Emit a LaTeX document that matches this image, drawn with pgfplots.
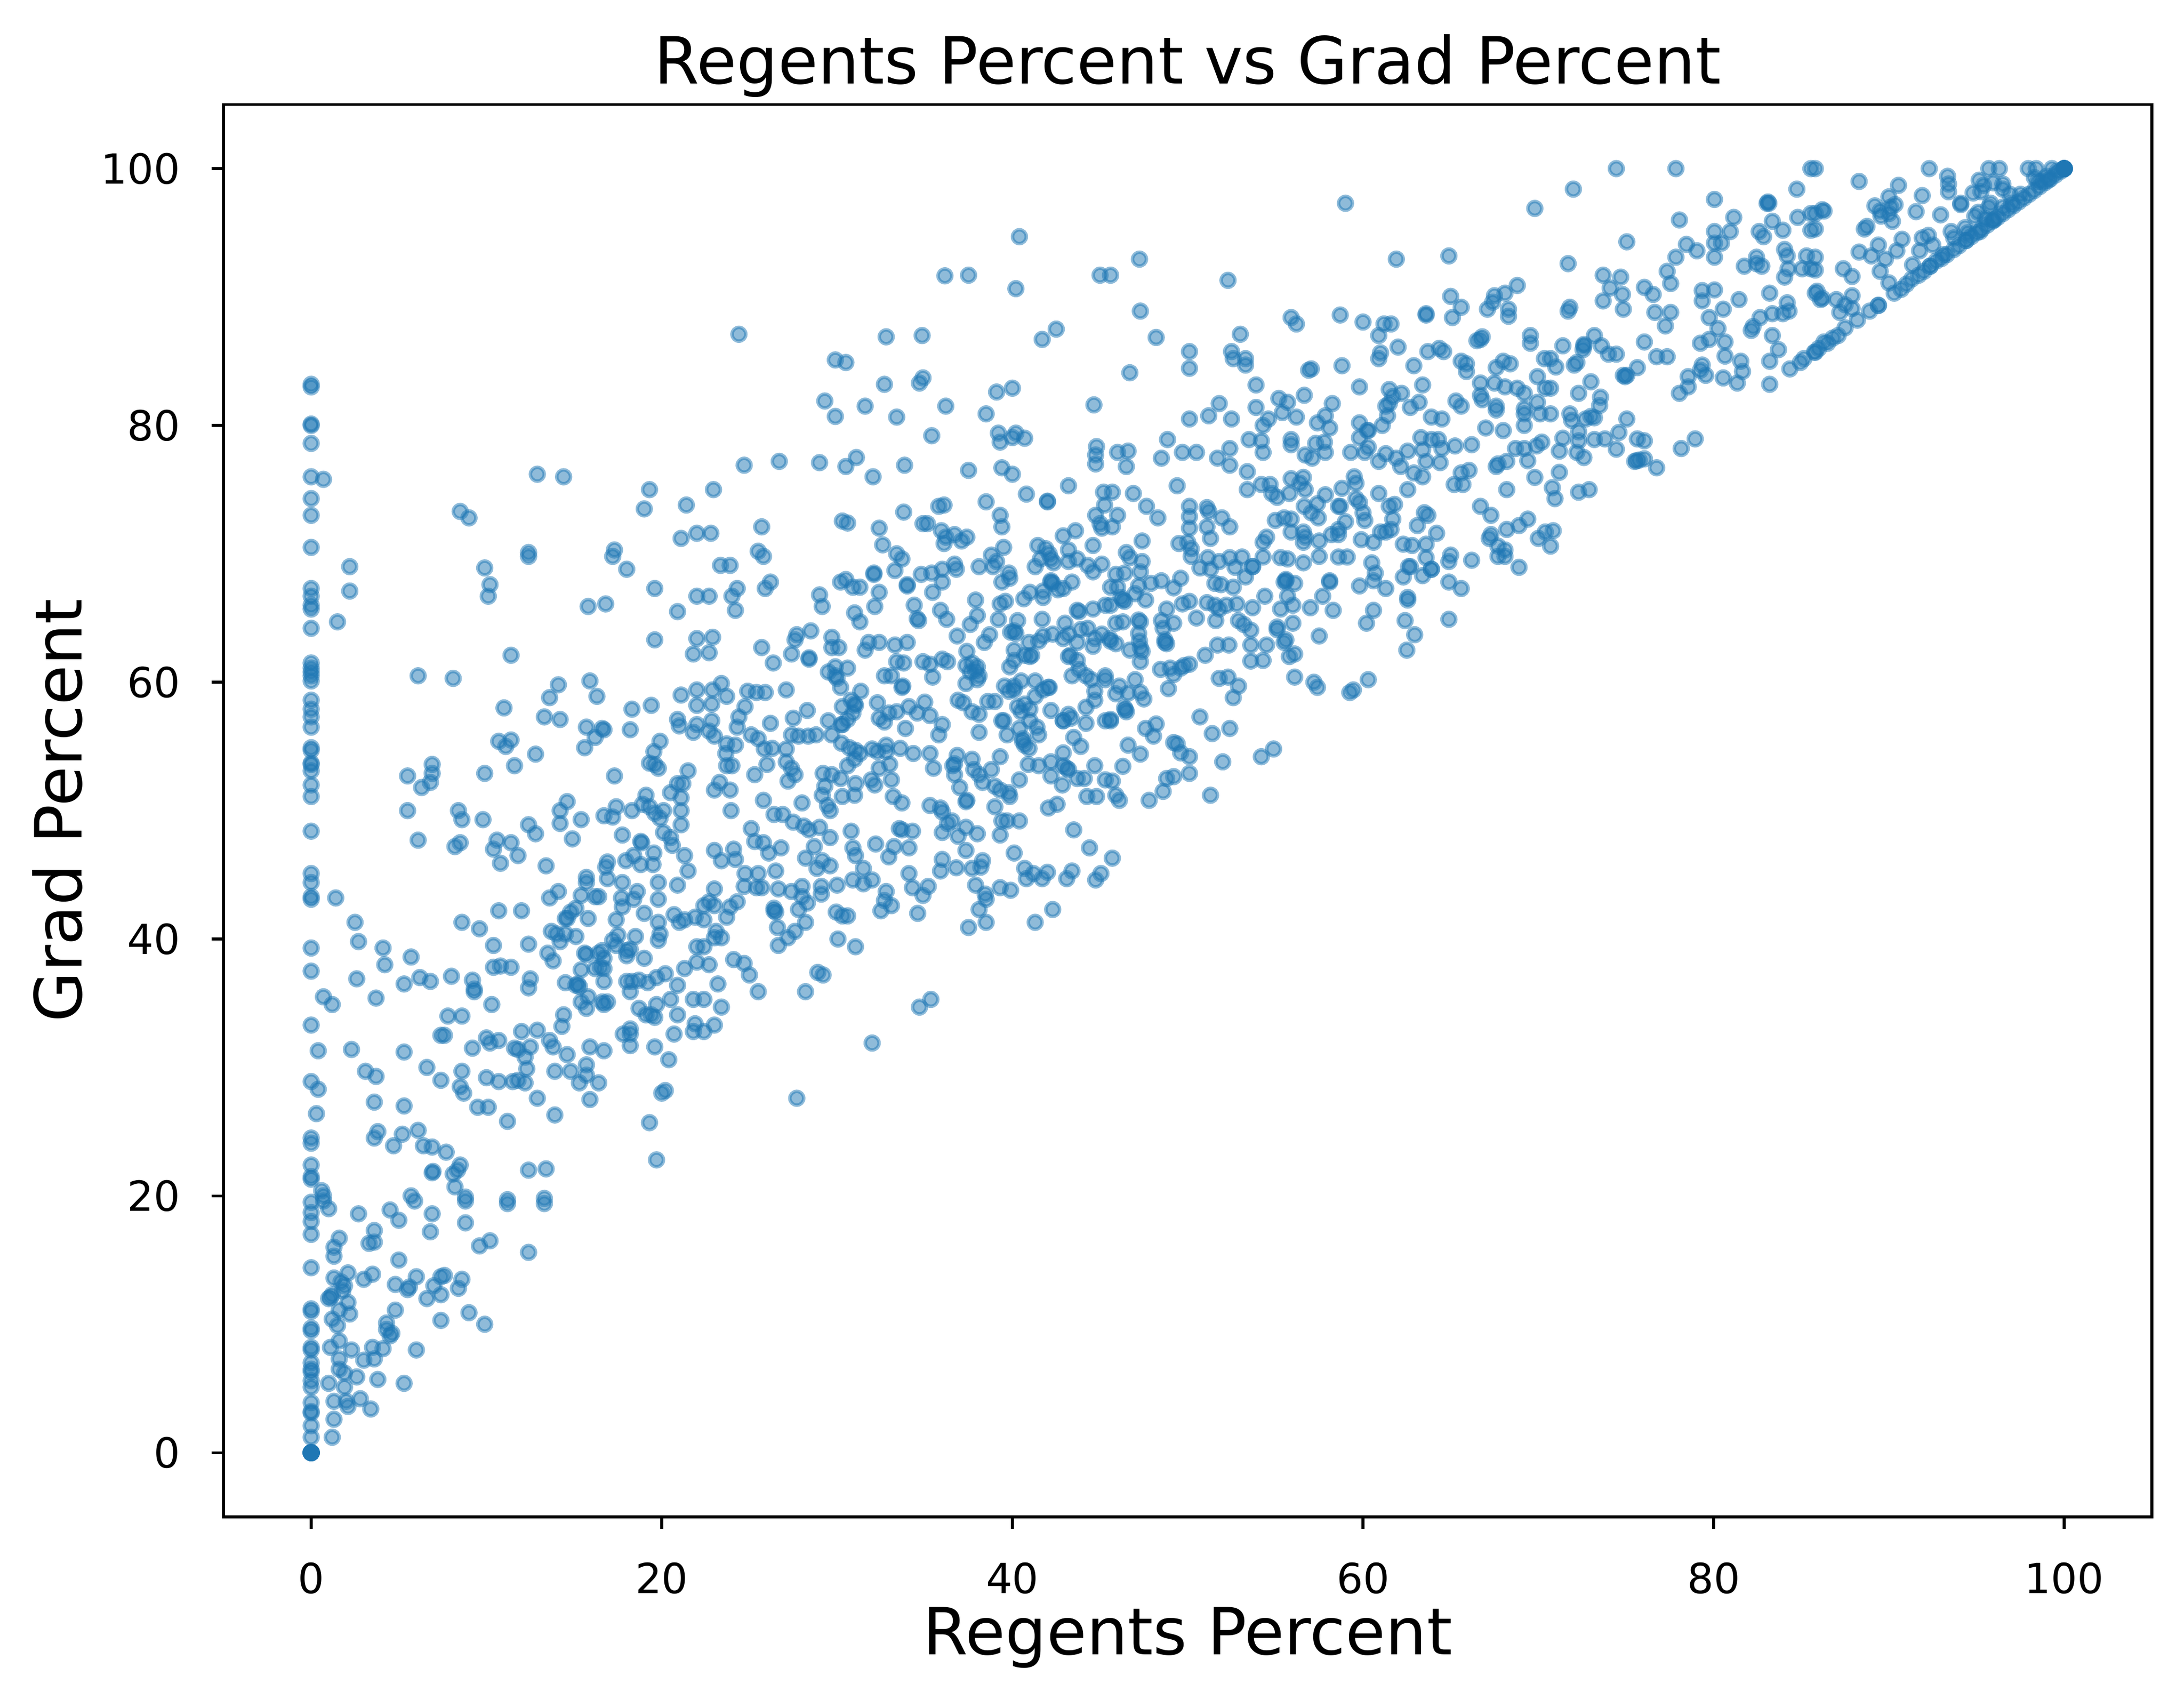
\documentclass[border=0pt]{standalone}
\usepackage{fontspec}
\setmainfont{DejaVu Sans}
\usepackage{pgfplots}
\pgfplotsset{compat=1.18}
\definecolor{mplblue}{HTML}{1F77B4}
\begin{document}
\begin{tikzpicture}
\begin{axis}[
  name=ax,
  scale only axis,
  width=557.7pt, height=408.4pt,
  xmin=-5, xmax=105, ymin=-5, ymax=105,
  xtick={0,20,40,60,80,100}, ytick={0,20,40,60,80,100},
  tick align=outside, tick pos=left,
  major tick length=3.5pt,
  every tick/.style={black, line width=0.8pt},
  axis line style={line width=0.8pt},
  /pgf/number format/assume math mode=true,
  tick label style={font=\fontsize{12}{14}\selectfont, inner sep=0pt},
  xticklabel style={anchor=base, yshift=-18.6pt},
  yticklabel style={anchor=base east, yshift=-4.4pt, xshift=-8.9pt},
  title={Regents Percent vs Grad Percent},
  xlabel={Regents Percent},
  ylabel={Grad Percent},
  every axis title/.style={at={(rel axis cs:0.5,1)}, yshift=6pt, anchor=base, font=\fontsize{18.8}{22}\selectfont, inner sep=0pt},
  every axis x label/.style={at={(rel axis cs:0.5,0)}, yshift=-39.9pt, anchor=base, font=\fontsize{18.8}{22}\selectfont, inner sep=0pt},
  every axis y label/.style={at={(rel axis cs:0,0.5)}, xshift=-41pt, rotate=90, anchor=base, font=\fontsize{18.8}{22}\selectfont, inner sep=0pt},
  clip=false,
]
\addplot[only marks, mark=*, mark size=2pt, mark options={line width=1pt, draw=mplblue, fill=mplblue, draw opacity=0.5, fill opacity=0.5}] coordinates {
(0,0) (0,0) (0,0) (0,0) (0,0) (0,0) (0,0) (0,0)
(0,1.2) (1.2,1.2) (0,2.1) (1.3,2.6) (0,3.1) (0,3.2) (0,3.9) (1.3,4.0) (2.1,3.6) (2.0,4.0) (2.8,4.2) (3.4,3.4)
(0,5.1) (0,5.6) (0,6.3) (0,6.5) (0,7.0) (0,8.0) (0,8.2) (0,9.5) (0,9.7) (0,11.2) (0,11.0) (0,14.4) (0,17.0) (0,18.0) (0,18.7) (0,19.5)
(1.0,5.4) (1.9,5.1) (2.6,5.9) (3.8,5.7) (5.3,5.4) (1.6,6.5) (1.9,6.2) (1.6,7.3) (1.1,8.2) (1.6,8.7) (2.3,8.0) (3.0,7.2) (3.5,8.2) (3.6,7.3) (4.1,8.1) (6.0,8.0)
(4.3,10.1) (4.3,9.6) (4.5,9.1) (4.6,9.3) (4.8,11.1) (1.2,10.4) (1.5,9.9) (2.2,10.8) (2.1,11.7) (1.6,11.1) (1.1,12.1) (1.2,12.3) (1.0,12.0)
(1.3,13.6) (1.7,13.3) (1.9,13.0) (2.1,14.0) (1.8,12.6) (3.0,13.5) (3.5,13.9) (4.8,13.1) (5.5,12.7) (5.6,12.9) (6.0,13.7) (6.6,12.0) (7.0,13.0) (7.4,13.7) (7.6,13.8) (7.4,12.3) (8.4,12.8) (8.6,13.5) (7.4,10.3) (9.0,10.9) (9.9,10.0)
(1.3,15.3) (1.3,16.0) (1.6,16.7) (5.0,15.0) (3.3,16.3) (3.6,16.4) (3.6,17.3) (2.7,18.6) (1.0,19.0) (4.5,18.9) (5.0,18.1) (6.9,18.6) (6.8,17.2) (8.8,17.9) (9.6,16.1) (10.2,16.5) (12.4,15.6) (11.2,19.4) (13.3,19.4) (8.8,19.6) (5.9,19.6) (0.7,19.6)
(0,44.4) (0,43.1) (0,43.3) (1.4,43.2) (0,39.3) (0,37.5) (0,33.3) (0.4,31.3) (0,28.9) (0.4,28.3) (0.3,26.4) (0,24.5) (0,24.1) (0,22.4) (0,21.5) (0,21.3) (0.6,20.4) (0.7,20.0)
(2.5,41.3) (2.7,39.8) (4.1,39.3) (4.2,38.0) (5.7,38.6) (2.6,36.9) (0.7,35.5) (1.2,34.9) (3.7,35.4) (5.3,36.5) (6.2,37.0) (6.8,36.7) (8.0,37.1) (9.2,36.8) (9.3,35.9) (9.3,36.1)
(8.6,41.3) (9.6,40.8) (10.7,42.2) (12.0,42.2) (10.4,39.5) (12.4,39.6) (10.4,37.8) (10.8,37.9) (11.4,37.8) (12.5,36.9) (12.4,36.2) (10.3,34.9) (7.8,34.0) (8.6,34.0) (7.4,32.5) (7.6,32.5)
(2.3,31.4) (5.3,31.2) (9.2,31.5) (10.0,32.3) (10.2,31.9) (10.7,32.1) (12.0,32.8) (12.9,32.9) (11.6,31.5) (11.8,31.4) (12.5,31.6) (12.2,30.8) (12.3,29.9)
(3.1,29.7) (3.7,29.3) (6.6,30.0) (7.4,29.0) (8.6,29.7) (8.5,28.5) (8.7,28.0) (10.0,29.2) (10.7,28.9) (11.5,28.9) (11.8,29.0) (12.2,28.8)
(13.6,32.1) (13.8,31.6) (14.6,31.0) (13.9,29.7) (14.8,29.7) (15.3,28.8) (15.7,29.4) (15.7,30.2) (16.4,28.8) (15.9,27.5) (13.9,26.3) (12.9,27.6) (11.2,25.8) (9.5,26.9) (10.1,26.9)
(3.6,27.3) (5.3,27.0) (3.8,25.0) (3.6,24.5) (5.2,24.8) (4.7,23.9) (6.1,25.1) (6.4,23.9) (6.9,23.8) (7.7,23.4) (8.5,22.4) (8.35,22.0) (8.1,21.7) (6.9,21.8) (6.95,21.9) (8.2,20.7) (5.7,20.0) (8.8,19.9) (12.4,22.0) (13.4,22.1) (11.2,19.7) (13.3,19.8)
(19.3,25.7) (19.7,22.8) (20.2,28.2) (20.0,28.0) (20.4,30.6) (19.6,31.6) (20.7,32.6) (21.8,32.8) (21.9,33.4) (18.2,31.7) (18.2,32.6) (17.8,32.6) (18.2,33.0) (15.9,31.6) (16.7,31.3) (14.3,33.2) (14.4,34.1)
(20.9,34.1) (21.8,35.3) (20.5,35.3) (19.7,34.9) (18.7,34.6) (19.1,34.1) (19.6,33.9) (19.4,34.1) (20.9,36.4) (21.3,37.7) (20.2,37.3) (19.7,37.0) (19.2,36.6) (18.7,36.8) (18.3,36.7) (18.0,36.7) (18.2,35.9)
(14.5,36.6) (15.2,36.5) (15.3,36.3) (15.1,36.4) (15.8,35.5) (15.4,35.1) (15.7,34.6) (16.6,35.1) (16.9,35.1) (16.7,34.9) (16.7,36.7) (15.4,37.6) (16.2,37.7) (16.5,37.8) (16.7,37.7)
(13.5,38.9) (13.8,38.3) (15.6,38.9) (15.7,38.8) (16.4,38.9) (16.6,39.1) (16.7,38.5) (17.4,39.5) (17.2,39.9) (17.5,40.3) (18.0,39.1) (18.2,39.2) (18.0,38.7) (18.5,40.2) (19.0,38.5) (19.9,40.4) (19.8,39.9) (19.8,41.3)
(13.7,40.6) (14.0,40.4) (14.2,39.8) (14.5,40.4) (15.1,40.2) (14.6,41.6) (14.5,41.6) (14.8,42.1) (15.1,42.4) (15.8,41.6) (13.6,43.2) (14.1,43.7) (15.4,43.4) (16.2,43.3) (16.4,43.3) (15.7,44.4) (16.9,44.7)
(17.4,41.5) (17.75,42.5) (17.7,43.2) (18.4,43.1) (18.6,43.7) (17.75,44.4) (19.0,42.0) (19.8,43.1) (19.8,44.4) (20.7,41.9) (20.9,44.2) (21.0,41.3) (21.3,41.5) (21.9,41.7) (22.0,39.4) (22.0,38.2)
(0,67.3) (0,66.7) (0,66.0) (0,65.7) (0,64.2) (0,61.5) (0,61.1) (0,60.8) (0,60.5) (0,60.1) (0,58.6) (0,57.9) (0,57.3) (0,56.5) (0,54.9) (0,54.7) (0,53.7) (0,53.6) (0,53.1) (0,52.0) (0,51.1) (0,48.4) (0,45.1)
(2.2,69.0) (2.2,67.1) (1.5,64.7) (9.9,68.9) (10.2,67.6) (10.1,66.7) (12.4,69.8) (17.2,69.8) (18.0,68.8) (19.6,67.3) (22.0,66.7) (15.8,65.9) (16.8,66.1) (20.9,65.5) (19.6,63.3) (22.0,63.4) (11.4,62.1) (21.8,62.2)
(6.1,60.5) (8.1,60.3) (14.1,59.8) (15.9,60.1) (16.3,58.9) (13.6,58.8) (21.1,59.0) (22.0,59.4) (11.0,58.0) (13.3,57.3) (14.2,57.1) (18.3,57.9) (19.4,58.2) (22.0,58.2)
(15.7,56.5) (16.6,56.4) (16.7,56.3) (16.2,55.7) (15.6,54.9) (18.2,56.3) (20.9,57.1) (21.0,56.6) (21.8,56.1) (22.0,56.7) (10.7,55.4) (11.1,55.0) (11.4,55.5) (12.8,54.4) (11.6,53.5) (9.9,52.9)
(5.5,52.7) (6.9,53.6) (6.9,52.9) (6.8,52.2) (6.3,51.8) (17.3,52.7) (19.9,55.4) (19.55,54.6) (19.3,53.7) (19.6,53.6) (19.8,53.3) (21.5,53.1) (21.2,52.1) (20.9,52.1) (20.5,51.4) (21.1,51.0)
(5.5,50.0) (8.4,50.0) (8.6,49.3) (9.8,49.3) (14.6,50.7) (14.2,50.0) (14.2,49.0) (15.4,49.3) (12.4,48.9) (12.8,48.2) (16.7,49.6) (17.2,49.5) (17.4,50.3) (18.3,50.0) (19.1,51.2) (18.9,50.5) (19.3,50.3) (19.6,49.8) (20.1,50.0) (19.9,49.4) (21.1,50.0) (21.1,48.9)
(17.75,48.1) (18.8,47.6) (18.85,47.5) (20.1,48.3) (20.5,47.9) (6.1,47.7) (8.2,47.2) (8.5,47.5) (10.6,47.7) (11.4,47.5) (10.4,47.0) (11.8,46.5) (10.8,45.9) (13.4,45.7) (14.9,47.8)
(16.9,46.0) (16.8,45.6) (17.95,46.1) (18.4,46.5) (18.8,45.8) (19.55,46.7) (19.5,45.8) (20.6,47.3) (21.3,46.5) (21.5,45.3) (15.7,44.8)
(0,83.2) (0,83.0) (0,80.0) (0,80.1) (0,78.6) (0,76.0) (0.7,75.8) (0,74.3) (0,73.0) (0,70.5) (8.5,73.3) (9.0,72.8) (12.9,76.2) (14.4,76.0) (12.4,70.1) (17.3,70.3) (19.3,75.0) (19.0,73.5) (21.4,73.8) (21.1,71.2) (22.0,71.6)
(23.0,43.9) (24.7,44.1) (25.4,44.0) (25.7,44.0) (26.65,43.9) (27.4,43.7) (28.0,44.1) (28.0,43.3) (28.3,42.8) (27.8,42.3)
(29.1,43.5) (29.1,44.1) (30.0,44.2) (30.9,44.6) (31.5,44.3) (32.0,44.6) (26.4,42.2) (26.4,42.4) (26.5,42.1)
(26.6,40.9) (27.6,40.6) (28.2,41.3) (27.2,40.1) (26.65,39.5) (29.95,42.1) (30.3,41.8) (30.6,41.8) (30.05,40.0) (31.05,39.4)
(32.8,43.7) (32.7,43.0) (33.1,42.6) (32.5,42.2) (34.3,44.0) (35.2,44.1) (34.9,43.4) (34.6,42.0)
(37.9,44.2) (38.45,43.5) (38.5,43.1) (38.1,42.3) (38.5,41.3) (37.5,40.9) (39.3,44.0) (39.9,43.8) (41.3,41.3) (42.3,42.3) (40.8,44.7) (41.7,44.7) (43.1,44.7) (44.75,44.6)
(22.4,41.5) (23.0,42.6) (23.7,41.7) (23.9,42.5) (24.3,42.9) (22.4,42.6) (22.7,42.9)
(23.1,40.6) (23.0,40.1) (23.4,40.1) (22.4,39.4) (22.7,38.0) (24.1,38.4) (24.7,38.1) (25.0,37.2) (23.2,36.5) (25.5,35.9) (22.4,35.3) (23.4,34.7) (23.0,33.3) (22.4,32.8)
(28.9,37.4) (29.2,37.2) (28.2,35.9) (34.7,34.7) (35.35,35.3) (32.0,31.9) (27.7,27.6)
(23.35,69.1) (23.9,69.1) (25.8,69.8) (33.7,69.6) (33.3,68.7) (32.1,68.4) (32.1,68.5) (34.8,68.4) (35.4,68.5) (36.0,68.8) (36.7,69.2) (36.8,68.8) (38.1,69.0) (38.9,69.0) (39.1,69.4) (39.8,68.5) (39.85,68.1) (39.4,67.8) (41.3,69.0) (41.6,69.6) (42.2,69.6) (42.35,69.3) (43.2,69.4) (43.7,69.6) (44.3,69.1) (44.6,68.6) (45.1,69.2)
(24.3,67.3) (24.0,66.7) (22.7,66.7) (25.9,67.3) (26.2,67.8) (30.2,67.8) (30.5,68.0) (30.9,67.4) (31.3,67.4) (32.4,67.0) (34.0,67.5) (34.0,67.6) (35.45,67.0) (36.0,67.8) (42.2,67.8) (42.2,67.9) (42.3,67.7) (41.75,67.1) (42.6,67.2) (42.9,67.3) (43.4,67.8) (41.0,67.0) (40.65,66.5) (41.75,66.6) (45.6,67.4)
(24.2,65.6) (29.0,66.8) (29.15,65.9) (31.0,65.4) (31.3,64.7) (32.15,65.9) (34.4,66.0) (34.57,64.95) (34.65,64.8) (35.9,65.6) (36.25,64.9) (37.9,66.4) (38.0,65.2) (37.6,64.5) (39.3,66.1) (39.6,66.3) (39.2,64.9) (40.3,64.8) (40.1,64.0) (39.9,63.9) (41.7,64.9) (43.0,64.6) (43.7,65.6) (43.8,65.5) (44.6,65.7) (45.3,66.0)
(22.9,63.5) (22.7,62.3) (25.7,62.7) (27.7,63.7) (27.6,63.3) (28.5,64.0) (27.4,62.2) (29.7,63.5) (29.7,62.7) (30.1,62.7) (28.4,61.8) (28.4,61.9) (31.8,63.1) (31.6,62.5) (32.4,63.1) (33.3,62.9) (34.0,63.1) (36.85,63.6) (38.4,63.1) (38.7,63.7) (37.4,62.4) (40.1,62.5) (40.2,63.8) (40.95,63.1) (41.0,62.0) (40.7,62.1) (41.5,63.2) (41.75,63.6) (42.3,63.75) (42.9,63.4) (43.2,63.75) (43.7,63.1) (43.9,64.1) (44.3,64.2) (44.6,62.8) (44.7,63.4) (45.1,63.75) (45.56,63.4) (43.3,62.1)
(26.36,61.5) (29.5,60.8) (29.9,61.2) (30.0,60.3) (30.6,61.1) (29.9,60.5) (30.2,59.6) (33.4,61.6) (33.8,61.5) (34.9,61.6) (35.3,61.4) (36.0,61.8) (36.3,61.6) (32.7,60.5) (33.1,60.5) (33.7,59.6) (33.75,59.7) (35.45,60.4) (37.35,61.3) (37.7,61.5) (38.0,61.2) (38.1,60.5) (38.0,60.2) (37.35,59.9) (37.6,60.8) (37.9,60.9) (39.85,61.2) (40.1,61.7) (41.1,62.1) (43.4,60.5) (43.8,61.0) (44.2,60.5) (44.5,60.2) (45.3,60.5) (45.3,60.2) (43.2,62.0) (43.7,61.7) (39.55,59.7) (40.1,59.7) (40.5,60.1) (41.3,60.1) (42.05,59.6) (39.8,59.3) (40.1,59.4)
(23.4,59.9) (22.9,59.4) (23.7,58.9) (22.85,58.3) (24.9,59.3) (25.4,59.2) (25.9,59.2) (27.1,59.4) (24.75,58.1) (24.4,57.3) (22.85,57.0) (28.3,57.8) (27.5,57.2) (26.2,56.8) (31.35,59.3) (30.8,58.6) (31.05,58.2) (31.0,58.3) (30.3,58.1) (30.9,57.6) (30.6,57.1) (30.25,56.7) (32.3,58.4) (32.95,57.6) (33.4,57.7) (32.4,57.2) (32.7,56.9) (34.1,58.1) (34.57,57.6) (35.0,58.45) (35.3,57.4) (36.0,56.7) (36.9,58.6) (37.2,58.4) (37.7,57.7) (38.1,57.5) (38.6,58.5) (39.0,58.5) (40.3,58.1) (40.7,58.3) (41.3,58.9) (41.75,59.4) (42.1,59.6) (42.2,57.8) (44.2,58.05) (44.7,59.3) (44.7,58.6) (39.4,57.0) (40.5,57.7) (41.0,57.9) (43.2,57.5) (42.9,57.0) (43.35,57.2) (45.6,57.0)
(22.7,56.2) (23.0,55.8) (24.3,56.5) (25.1,55.9) (25.5,55.6) (23.7,55.2) (24.2,55.1) (23.65,54.45) (25.85,54.8) (26.3,54.85) (27.1,54.8) (27.4,55.9) (27.8,55.8) (28.35,55.8) (28.8,55.9) (29.5,57.0) (29.7,55.9) (30.25,55.25) (30.3,56.7) (30.7,54.9) (31.05,54.7) (31.3,54.45) (31.0,54.0) (32.0,54.8) (32.3,54.6) (32.8,55.1) (32.8,54.6) (33.6,54.85) (34.35,54.45) (35.3,54.45) (33.9,56.4) (35.8,55.9) (38.1,56.1) (39.5,57.0) (39.7,55.9) (40.4,56.4) (40.58,55.4) (40.7,55.1) (40.95,54.85) (40.6,55.6) (41.0,57.0) (41.4,56.5) (41.5,55.9) (42.9,57.0) (43.5,55.7) (43.9,55.0) (44.2,56.8) (45.3,57.0) (36.85,54.3) (36.7,53.65) (37.7,54.0) (39.3,54.2) (40.9,53.6) (41.5,53.5) (42.2,53.8) (42.9,54.5) (42.9,53.5) (43.2,53.2) (44.7,53.5)
(23.7,53.5) (24.0,53.5) (23.3,52.2) (26.0,53.6) (25.3,52.8) (27.1,53.8) (27.4,53.3) (27.6,52.8) (27.2,52.3) (23.0,51.6) (23.9,51.6) (29.2,52.9) (29.7,52.8) (30.2,52.5) (30.6,53.5) (31.05,52.1) (29.3,51.9) (33.0,53.6) (32.4,53.3) (31.95,52.4) (32.15,52.0) (33.1,52.4) (35.5,53.3) (36.6,53.5) (36.7,52.8) (37.0,51.8) (37.4,50.8) (37.35,50.7) (37.8,53.2) (38.1,52.8) (38.3,52.2) (38.8,53.2) (39.0,51.9) (39.3,51.6) (39.8,51.4) (39.85,51.1) (40.4,52.4) (42.2,52.7) (43.1,53.3) (42.85,52.0) (43.7,52.5) (44.1,52.5) (45.3,52.4) (44.25,51.1) (44.8,51.1) (42.05,50.2) (42.55,50.5) (25.8,50.8) (23.95,50.0)
(26.4,49.7) (26.9,49.7) (25.1,48.6) (25.8,47.5) (27.5,49.1) (28.0,50.6) (28.1,48.8) (28.4,48.5) (29.0,48.7) (29.15,51.2) (29.45,50.4) (29.6,50.0) (30.3,51.1) (31.0,51.2) (29.6,47.9) (30.8,48.4) (33.2,51.1) (33.7,50.6) (35.3,50.4) (35.9,50.2) (36.0,49.9) (36.3,49.0) (36.55,49.2) (36.0,48.3) (36.9,48.0) (37.35,48.7) (38.0,48.2) (39.0,50.3) (39.4,49.2) (39.7,49.2) (40.4,49.2) (39.3,48.1) (43.5,48.5) (33.7,48.5) (34.3,48.4) (33.55,48.6)
(23.0,46.9) (24.1,47.0) (24.2,46.2) (23.4,46.1) (25.3,47.6) (26.1,46.7) (26.8,47.1) (24.75,45.1) (25.5,45.1) (26.5,45.3) (28.2,46.3) (28.7,47.2) (29.15,46.1) (29.6,45.7) (28.85,45.5) (30.9,47.1) (31.05,46.5) (31.5,45.5) (32.2,47.4) (32.95,46.4) (33.25,47.2) (34.1,47.1) (34.1,45.1) (36.0,46.2) (35.9,45.3) (36.8,45.55) (37.35,46.9) (38.3,46.1) (38.2,45.6) (37.7,45.5) (40.1,46.7) (40.7,45.5) (41.2,45.1) (42.0,45.2) (43.4,45.3) (44.4,47.1) (45.05,45.1)
(40.4,94.7) (36.15,91.65) (37.5,91.7) (40.2,90.65) (45.0,91.7) (24.4,87.1) (32.8,86.9) (34.85,87.0) (42.5,87.5) (41.7,86.7) (29.9,85.1) (30.5,84.9) (32.7,83.2) (34.9,83.7) (34.7,83.3) (39.1,82.6) (40.0,82.9) (29.3,81.9) (29.9,80.7) (31.6,81.5) (33.4,80.65) (36.2,81.5) (38.5,80.9) (44.65,81.6)
(35.4,79.2) (39.2,79.4) (39.3,78.7) (40.0,79.05) (40.2,79.4) (40.7,79.0) (44.8,78.35) (44.75,77.7) (44.75,77.0)
(24.7,76.9) (26.7,77.2) (29.0,77.1) (30.5,76.8) (31.1,77.5) (32.05,76.0) (33.85,76.9) (37.5,76.5) (39.4,76.7) (40.0,76.2) (43.2,75.3) (22.95,75.0) (40.8,74.65) (42.0,74.05) (42.0,74.1) (38.5,74.05) (35.8,73.7) (36.1,73.8) (33.8,73.25) (39.3,73.0) (39.4,72.1)
(45.2,74.8) (45.26,73.8) (44.75,73.0) (45.0,72.35) (45.1,72.0) (22.8,71.6) (25.7,72.1) (30.3,72.55) (30.6,72.4) (32.4,72.0) (32.6,70.7) (34.9,72.35) (35.15,72.35) (35.95,71.8) (36.2,71.3) (36.1,70.8) (36.7,71.5) (37.1,71.0) (37.4,71.3) (39.5,70.5) (41.45,70.65) (41.9,70.4) (42.1,70.0) (42.9,71.4) (43.6,71.8) (43.2,70.3) (44.6,70.65) (33.4,70.0) (25.5,70.2) (38.8,69.9)
(46.7,69.7) (47.4,69.4) (50.2,69.8) (51.15,69.7) (51.8,69.4) (52.4,69.7) (53.1,69.75) (53.7,69.0) (54.3,69.75) (55.3,69.7) (55.7,69.6) (56.6,69.3) (57.5,69.8) (58.6,69.75) (59.1,69.75) (60.5,69.3) (62.6,69.0) (63.6,69.7) (63.9,68.8) (64.9,69.4) (66.2,69.5) (67.7,69.8) (68.1,69.8) (68.9,68.95)
(45.9,68.4) (46.4,68.5) (47.3,68.6) (46.0,67.4) (47.2,67.5) (47.9,67.7) (48.5,67.9) (49.2,67.35) (49.6,68.1) (46.3,66.4) (47.6,66.4) (47.0,66.9) (46.2,66.6)
(50.7,68.9) (51.3,68.8) (51.55,67.7) (51.9,67.6) (52.6,67.4) (52.7,68.95) (53.3,68.2) (53.7,69.0)
(55.6,67.9) (55.5,67.8) (55.6,68.0) (56.1,67.7) (55.7,66.7) (54.4,66.7) (57.7,66.7) (58.1,67.8) (58.1,67.9) (59.8,67.5) (60.7,68.5) (60.6,67.9) (61.3,67.3)
(62.3,68.2) (62.7,69.0) (63.4,68.3) (63.9,68.8) (64.9,67.8) (65.6,67.3) (62.55,66.4) (62.55,66.6)
(45.6,66.0) (46.4,66.3) (49.7,66.1) (50.1,66.3) (48.8,65.7) (51.1,66.2) (51.55,66.0) (51.8,65.7) (52.2,66.0) (52.8,66.1) (53.7,65.8) (55.3,65.7) (56.0,66.0) (57.0,65.8) (58.3,65.6)
(60.6,65.6) (60.2,64.6) (62.4,64.8) (64.9,64.9) (62.95,63.7) (62.5,62.5)
(45.9,64.6) (46.3,64.7) (47.2,64.85) (47.3,64.7) (48.5,64.8) (49.2,64.6) (48.6,64.2) (50.5,65.0) (51.6,64.8) (52.9,64.8) (53.2,64.5) (53.6,64.05) (55.1,64.3) (55.1,64.1) (56.0,64.6)
(47.2,63.8) (47.25,63.2) (47.3,62.7) (47.4,62.4) (45.6,63.2) (45.9,63.0) (46.7,62.5) (48.7,63.1) (48.8,63.0) (48.7,63.3) (51.0,62.1) (51.7,62.9) (52.35,62.9) (53.6,62.9) (54.5,62.9) (55.5,63.1) (55.8,62.0) (56.1,62.2) (53.6,61.65) (54.3,61.7) (57.5,63.6) (47.3,61.6) (55.6,63.3)
(48.45,61.0) (49.0,61.1) (49.6,61.1) (50.1,61.4) (49.8,61.3) (49.2,60.6) (47.0,60.2) (46.1,59.7) (45.9,59.1) (46.6,59.15) (47.3,59.2) (47.5,58.7) (48.9,59.5) (51.8,60.3) (52.3,60.4) (52.9,59.7) (52.6,58.8) (56.1,60.4) (57.2,60.0) (57.4,59.6) (59.25,59.2) (59.45,59.4) (60.3,60.2) (46.4,58.0) (46.5,57.7) (46.45,57.85) (45.6,57.1)
(50.7,57.3) (48.2,56.75) (47.6,56.4) (48.05,55.8) (51.4,56.0) (52.4,56.4) (46.6,55.1) (47.3,54.4) (49.2,55.3) (49.4,55.2) (49.6,54.5) (50.1,54.2) (52.0,53.8) (54.2,54.2) (54.9,54.8) (46.3,53.45) (45.7,52.3) (48.8,52.5) (49.2,52.65) (50.1,52.9) (48.6,51.5) (45.9,51.2) (46.1,50.8) (47.8,50.8) (51.3,51.2) (45.7,46.3)
(59.0,97.3) (69.8,96.9) (47.25,92.95) (61.9,92.95) (64.9,93.2) (45.6,91.7) (52.3,91.3) (47.3,88.9)
(55.9,88.4) (56.2,87.9) (58.7,88.6) (60.0,88.05) (61.2,87.9) (61.6,87.9) (60.9,87.0) (63.6,88.6) (63.6,88.7)
(65.0,90.05) (65.6,89.2) (65.1,88.4) (67.1,89.05) (67.4,89.6) (67.5,90.1) (68.1,90.3) (68.8,90.9) (68.3,89.05) (68.3,88.5)
(48.2,86.85) (50.1,85.75) (50.1,84.45) (46.7,84.1) (53.0,87.1) (52.5,85.75) (52.6,85.2) (53.3,85.2) (53.3,84.7)
(56.9,84.3) (57.05,84.4) (58.8,84.65) (59.8,83.0) (61.0,85.65) (60.9,85.2) (62.0,86.1) (62.9,84.65) (63.7,85.75) (64.35,86.0) (64.6,85.75)
(65.6,85.0) (65.9,84.8) (65.9,84.2) (66.5,86.6) (66.8,86.9) (66.7,86.7) (67.6,84.5) (68.0,85.0) (68.4,84.8) (69.55,87.0) (69.55,86.4) (70.35,85.2) (69.95,83.8)
(53.9,83.15) (61.5,82.8) (63.4,83.15) (66.7,83.3) (67.5,83.3) (68.1,83.0) (68.8,82.9) (69.2,82.5) (70.4,82.9)
(61.7,82.25) (62.2,82.5) (61.5,81.7) (61.3,81.5) (62.7,81.4) (63.2,81.8) (65.3,81.9) (65.6,81.5) (66.7,82.35) (66.8,82.0) (67.6,81.2) (67.6,81.5) (69.2,81.3) (69.95,81.8) (70.1,80.9) (69.2,80.9) (69.2,80.0)
(55.2,82.1) (55.7,81.8) (56.65,82.35) (58.25,81.7) (55.4,81.0) (56.2,80.65) (53.9,81.4) (54.6,80.5) (54.3,80.0)
(51.8,81.7) (51.2,80.75) (50.1,80.5) (52.5,80.5)
(57.4,80.2) (57.85,80.75) (58.1,79.8) (61.1,80.0) (61.4,80.75) (59.8,80.2) (60.3,79.6) (63.9,80.65) (64.5,80.5) (67.0,79.8) (68.0,79.6)
(48.85,78.9) (46.0,77.9) (46.6,78.0) (46.5,76.8) (48.5,77.45) (49.7,77.9) (50.5,77.9) (51.7,77.45) (52.4,78.2) (52.4,76.9) (53.4,76.4)
(53.5,78.9) (54.2,78.8) (54.3,77.9) (55.9,78.9) (55.9,78.5) (56.7,77.7) (57.1,77.45) (57.3,78.6) (57.8,78.7) (57.85,77.9)
(59.3,77.9) (59.8,79.05) (60.25,79.6) (60.1,77.9) (60.3,78.3) (60.9,77.2) (61.3,77.8) (61.9,77.45) (62.15,76.8) (62.55,78.0) (63.3,79.05) (63.4,78.1) (63.6,77.2) (63.9,78.9) (64.3,78.9) (64.4,77.1) (64.5,78.2) (65.25,78.4) (66.2,78.5)
(67.6,76.8) (67.7,77.0) (68.2,77.2) (68.7,78.2) (69.2,78.2) (69.4,77.25) (69.8,75.95) (69.9,78.4) (70.2,78.7)
(65.6,76.3) (66.05,76.5) (65.2,75.4) (65.7,75.4) (68.2,75.0)
(62.9,76.3) (63.4,76.0) (62.55,75.0) (60.9,74.7) (59.5,76.0) (59.6,75.5) (58.8,75.1) (58.7,73.7) (58.6,73.7)
(49.4,75.3) (46.9,74.7) (45.7,74.8) (47.65,73.7) (48.3,72.8) (46.0,73.0) (45.7,72.1)
(53.4,75.0) (54.2,75.4) (54.7,75.4) (54.8,74.7) (55.1,74.4) (55.8,74.7) (55.9,75.85) (56.4,75.5) (56.6,75.95) (56.7,75.0)
(56.65,73.7) (57.05,73.2) (57.45,72.8) (57.4,73.9) (57.85,74.6)
(50.1,73.7) (50.1,72.9) (50.1,72.0) (51.1,73.6) (51.2,73.3) (51.95,72.8) (52.4,72.1) (51.1,72.1) (51.3,71.2)
(50.0,70.9) (49.5,70.8) (50.2,70.4) (47.4,71.0) (46.5,70.1)
(55.0,72.6) (55.5,72.8) (55.9,72.7) (55.9,71.7) (54.5,71.3) (54.3,70.9) (56.6,71.7) (56.7,71.3) (56.6,70.9) (57.5,71.0)
(58.2,71.5) (58.6,71.5) (58.6,71.9) (59.0,72.5) (59.6,74.3) (60.0,73.2) (60.1,72.6) (59.8,74.0)
(59.9,71.1) (60.6,70.9) (61.0,71.7) (61.3,71.7) (61.6,71.9) (61.7,72.7) (61.5,73.7) (61.8,73.85)
(63.1,72.2) (63.5,73.2) (63.7,73.0) (64.2,71.6) (62.3,70.75) (62.8,70.65) (63.6,70.75)
(66.7,73.7) (67.3,73.0) (68.2,71.9) (68.9,72.2) (69.4,72.7) (67.3,71.5) (67.2,71.2) (67.7,70.6) (68.1,70.3) (70.0,71.2) (70.4,71.7) (65.0,69.9)
(74.45,100.0) (77.85,100.0) (85.55,100.0) (72.0,98.4) (84.75,98.4) (80.05,97.6) (83.05,97.3) (83.15,97.3) (83.1,97.4) (78.05,96.0)
(81.15,96.2) (80.95,95.1) (80.05,95.1) (80.05,94.2) (80.45,94.2) (79.05,93.6) (78.45,94.1) (77.85,93.1) (80.05,93.1)
(83.35,95.9) (83.95,95.2) (82.6,95.1) (82.85,94.7) (84.8,96.2) (85.55,96.5) (86.2,96.8) (85.55,95.2)
(75.05,94.3) (71.7,92.6)
(73.7,91.7) (74.7,91.55) (74.1,90.7) (74.8,90.2) (73.7,89.7) (74.85,89.05) (71.8,89.2) (71.7,88.9)
(77.35,92.0) (77.55,91.05) (76.05,90.75) (76.55,90.2) (76.65,88.8) (77.55,88.8) (77.25,87.75)
(81.75,92.4) (82.45,93.1) (82.45,92.6) (82.75,92.4) (84.05,93.7) (84.2,93.2) (84.05,91.55) (84.25,92.2) (85.05,92.2) (85.55,92.2) (85.3,93.2)
(79.35,90.5) (79.35,89.7) (80.05,90.55) (80.55,89.05) (81.45,89.8) (79.75,88.4) (80.25,87.55)
(83.2,90.3) (85.8,90.3) (86.1,89.8) (84.2,89.55) (84.3,88.9) (83.95,88.7) (83.35,88.7) (82.65,88.4)
(82.25,87.7) (82.15,87.4) (83.35,87.0) (83.7,85.9) (80.65,86.5) (79.75,86.7) (79.25,86.4)
(80.65,85.4) (81.55,85.0) (81.65,84.2) (81.35,83.3) (80.55,83.7) (83.2,85.0) (83.2,83.2) (84.35,84.4) (84.95,84.9) (85.15,85.2) (85.75,85.7) (86.3,86.5)
(79.35,84.7) (79.25,84.3) (79.55,83.9) (78.55,83.8) (78.55,83.0) (78.05,82.5)
(76.05,86.5) (76.75,85.35) (77.35,85.35) (75.65,84.5) (75.05,83.9) (74.85,83.9) (74.95,83.8)
(71.4,86.2) (72.6,86.3) (72.55,85.9) (72.6,86.2) (73.2,87.0) (73.6,86.2) (74.0,85.55) (74.45,85.55) (72.2,84.9) (72.05,84.7) (71.0,84.55) (70.7,85.2)
(73.0,83.4) (72.3,82.5) (73.55,82.2) (73.5,81.55) (70.7,82.9)
(71.8,80.9) (71.9,80.4) (72.7,80.5) (73.0,80.7) (73.2,80.6) (75.05,80.5)
(72.3,79.5) (71.4,79.0) (72.3,78.8) (73.2,78.9) (73.8,78.95) (74.6,79.45) (71.2,78.0) (72.2,77.9) (72.6,77.5)
(75.65,78.95) (76.05,78.8) (74.45,78.15) (75.5,77.2) (75.75,77.3) (76.05,77.4) (76.75,76.7) (75.6,77.25)
(78.15,78.2) (78.95,78.95)
(71.2,76.35) (70.8,75.15) (70.95,74.3) (72.3,74.8) (72.9,75.0) (70.85,71.8) (70.7,70.6) (70.7,80.9)
(85.8,100.0) (92.3,100.0) (95.7,100.0) (96.3,100.0) (97.95,100.0) (98.4,100.0) (99.3,100.0)
(88.3,99.0) (90.55,98.7) (93.35,99.4) (93.4,98.8) (93.4,98.2) (95.15,99.1) (95.4,98.7) (95.95,98.9) (96.5,98.8) (96.5,98.4)
(98.3,99.3) (98.7,99.0) (99.1,99.1) (94.8,98.1) (95.25,98.2) (96.9,98.0)
(90.0,97.8) (91.9,97.9) (94.1,97.3) (94.1,97.2) (89.2,97.1) (89.5,96.7) (90.1,97.0) (90.35,97.2) (90.0,96.5) (90.2,95.9) (89.55,96.3) (86.3,96.7) (85.8,96.5)
(91.55,96.65) (92.95,96.4) (94.9,96.3) (95.1,96.6) (95.7,97.0) (95.8,97.3) (88.6,95.3) (88.75,95.5) (85.8,95.3)
(90.75,94.5) (89.4,94.05) (88.3,93.5) (89.0,93.2) (89.8,92.95) (90.45,93.6) (89.5,92.0) (87.4,92.2) (87.9,91.6)
(91.75,93.6) (91.9,94.6) (92.25,94.8) (92.5,94.05) (91.35,92.5) (91.0,91.0) (90.0,91.1)
(93.55,95.1) (93.7,94.6) (94.35,95.4) (95.2,95.1) (85.8,93.1) (85.8,92.1)
(85.9,90.45) (86.2,89.9) (87.0,89.8) (87.9,90.1) (87.9,89.1) (87.2,88.8) (87.5,89.4) (89.4,89.35) (89.4,89.35)
(87.1,87.0) (86.5,86.4) (85.8,85.7) (92.35,92.4) (92.35,92.4) (93.1,93.3) (94.4,94.4) (95.95,96.0)
(86.0,86.0) (86.8,86.8) (87.5,87.6) (88.2,88.2) (88.9,88.9) (90.3,90.3) (90.7,90.6) (91.3,91.4) (91.7,91.7) (92.0,92.0) (92.7,92.8) (93.0,93.0) (93.3,93.3) (93.7,93.7) (94.0,94.0) (94.4,94.4) (94.7,94.7) (95.0,95.0) (95.3,95.3) (95.6,95.6) (95.9,95.9) (96.0,96.0) (96.2,96.2) (96.5,96.5) (96.8,96.8) (97.1,97.1) (97.4,97.4) (97.7,97.7) (98.0,98.0) (98.3,98.3) (98.6,98.6) (98.9,98.9) (99.2,99.2) (99.5,99.5) (99.8,99.8)
(96.5,97.0) (97.5,98.0) (98.5,99.0) (95.5,96.1) (94.5,95.0) (97.0,97.3) (99.0,99.4) (99.6,99.8)
(100,100) (100,100) (100,100) (100,100) (100,100) (100,100) (100,100) (100,100)
};
\end{axis}
\pgfresetboundingbox
\useasboundingbox ([xshift=-64.65pt,yshift=-52.84pt]ax.south west) rectangle ([xshift=9.3pt,yshift=30.2pt]ax.north east);
\end{tikzpicture}
\end{document}
